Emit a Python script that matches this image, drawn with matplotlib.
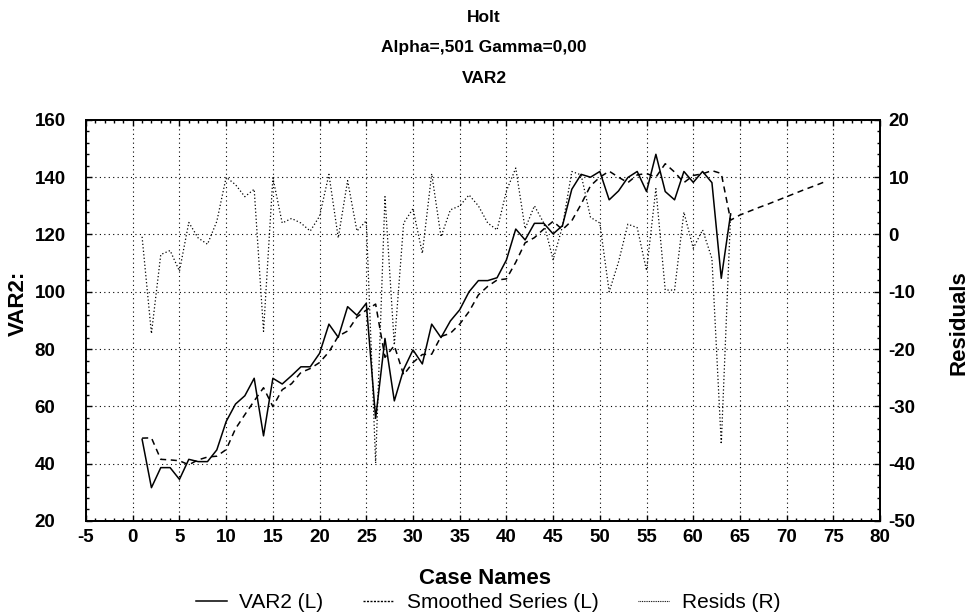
import matplotlib
matplotlib.use('Agg')
from matplotlib import pyplot as plt
from matplotlib.ticker import MultipleLocator
from matplotlib.lines import Line2D

plt.rcParams['font.family'] = ['Liberation Sans', 'DejaVu Sans']
plt.rcParams['axes.unicode_minus'] = False

# observed series, cases 1..64
case = list(range(1, 65))
var2 = [48.5, 31.6, 38.6, 38.6, 34.5, 41.5, 40.7, 40.7, 44.8, 54.7,
        60.8, 63.7, 69.8, 49.7, 69.8, 67.8, 70.7, 73.8, 73.8, 78.5,
        88.7, 84.1, 94.8, 91.8, 96.0, 55.8, 83.7, 61.9, 72.9, 79.7,
        74.8, 88.7, 84.0, 89.8, 93.7, 100.0, 103.9, 103.9, 104.9, 111.1,
        121.9, 118.1, 123.9, 123.9, 120.2, 123.1, 135.8, 141.0, 140.0, 142.0,
        132.1, 135.2, 139.9, 142.0, 135.0, 148.0, 135.0, 132.1, 142.0, 138.2,
        142.0, 138.1, 104.7, 127.2]

# smoothed series, cases 1..74 (last 10 are the forecast)
smooth_case = list(range(1, 75))
smoothed = [48.9, 49.0, 41.5, 41.3, 41.0, 39.6, 41.3, 42.3, 42.6, 44.9,
            52.2, 57.1, 61.9, 66.5, 59.9, 65.8, 67.9, 71.8, 73.2, 75.3,
            79.0, 84.5, 86.3, 91.2, 93.6, 95.7, 77.1, 81.2, 71.0, 75.3,
            78.1, 78.2, 84.4, 85.5, 88.7, 93.1, 98.9, 101.9, 104.1, 104.5,
            110.3, 117.1, 118.9, 121.9, 124.6, 121.7, 124.8, 130.6, 137.0, 140.0,
            142.1, 140.0, 138.1, 140.8, 141.3, 140.0, 144.7, 141.8, 138.1, 140.6,
            141.2, 142.3, 141.3, 125.0, 126.8, 128.1, 129.4, 130.6, 131.9, 133.2,
            134.5, 135.8, 137.0, 138.3]

# residuals, right axis
resids = [-0.4, -17.3, -3.5, -2.8, -6.4, 2.1, -0.6, -1.7, 2.3, 10.0,
          8.7, 6.6, 7.9, -16.9, 9.9, 2.0, 2.8, 2.0, 0.6, 3.2,
          10.5, -0.6, 9.4, 0.6, 2.4, -39.9, 6.6, -19.3, 2.0, 4.5,
          -3.3, 10.6, -0.4, 4.3, 5.0, 6.9, 5.0, 2.0, 0.8, 7.6,
          11.6, 1.0, 5.0, 2.0, -4.4, 1.4, 11.0, 10.4, 3.0, 2.0,
          -10.0, -4.8, 1.8, 1.2, -6.3, 8.0, -9.7, -9.7, 3.9, -2.4,
          0.8, -4.2, -36.6, 3.5]

tick_fs = 13.5
label_fs = 16

fig = plt.figure(figsize=(9.7, 6.15), dpi=100)
ax = fig.add_axes([0.0887, 0.153, 0.8186, 0.652])
ax2 = ax.twinx()

ax.plot(case, var2, '-', color='black', lw=1.1)
ax.plot(smooth_case, smoothed, color='black', lw=1.1, linestyle=(0, (4, 3)))
ax2.plot(case, resids, color='black', lw=0.9, linestyle=(0, (1, 1.8)))

ax.set_xlim(-5, 80)
ax.set_ylim(20, 160)
ax2.set_ylim(-50, 20)

ax.xaxis.set_major_locator(MultipleLocator(5))
ax.xaxis.set_minor_locator(MultipleLocator(1))
ax.yaxis.set_major_locator(MultipleLocator(20))
ax.yaxis.set_minor_locator(MultipleLocator(4))
ax2.yaxis.set_major_locator(MultipleLocator(10))
ax2.yaxis.set_minor_locator(MultipleLocator(2))

ax.tick_params(which='both', direction='in', top=True, right=False, width=1)
ax.tick_params(which='major', length=4, labelsize=tick_fs)
ax.tick_params(axis='x', which='major', pad=6)
ax.tick_params(axis='y', which='major', pad=37)
ax.tick_params(which='minor', length=2.5)
ax2.tick_params(which='both', direction='in', width=1)
ax2.tick_params(which='major', length=4, labelsize=tick_fs, pad=6)
ax2.tick_params(which='minor', length=2.5)
for lab in ax.get_xticklabels() + ax.get_yticklabels() + ax2.get_yticklabels():
    lab.set_fontweight('bold')
# left tick labels are left-aligned in the reference
for lab in ax.get_yticklabels():
    lab.set_horizontalalignment('left')

ax.set_axisbelow(True)
ax.grid(which='major', color='black', linestyle=(0, (1, 3)), linewidth=0.8)
for a in (ax, ax2):
    for s in a.spines.values():
        s.set_linewidth(1.3)

fig.text(0.4995, 0.06, 'Case Names', ha='center', va='center',
         fontsize=label_fs, fontweight='bold')
fig.text(0.019, 0.506, 'VAR2:', rotation=90, ha='center', va='center',
         fontsize=label_fs, fontweight='bold')
fig.text(0.989, 0.476, 'Residuals', rotation=90, ha='center', va='center',
         fontsize=label_fs, fontweight='bold')

fig.text(0.499, 0.972, 'Holt', ha='center', va='center', fontsize=12.5, fontweight='bold')
fig.text(0.499, 0.923, 'Alpha=,501 Gamma=0,00', ha='center', va='center', fontsize=12.5, fontweight='bold')
fig.text(0.499, 0.873, 'VAR2', ha='center', va='center', fontsize=12.5, fontweight='bold')

handles = [Line2D([], [], color='black', lw=1.1),
           Line2D([], [], color='black', lw=1.0, linestyle=(0, (1.5, 1))),
           Line2D([], [], color='black', lw=0.8, linestyle=(0, (0.8, 0.8)))]
labels = ['VAR2 (L)', 'Smoothed Series (L)', 'Resids (R)']
fig.legend(handles, labels, loc='center', bbox_to_anchor=(0.503, 0.02), ncol=3,
           frameon=False, fontsize=15, handlelength=1.5, columnspacing=1.9,
           handletextpad=0.6)

fig.savefig('out.png')
